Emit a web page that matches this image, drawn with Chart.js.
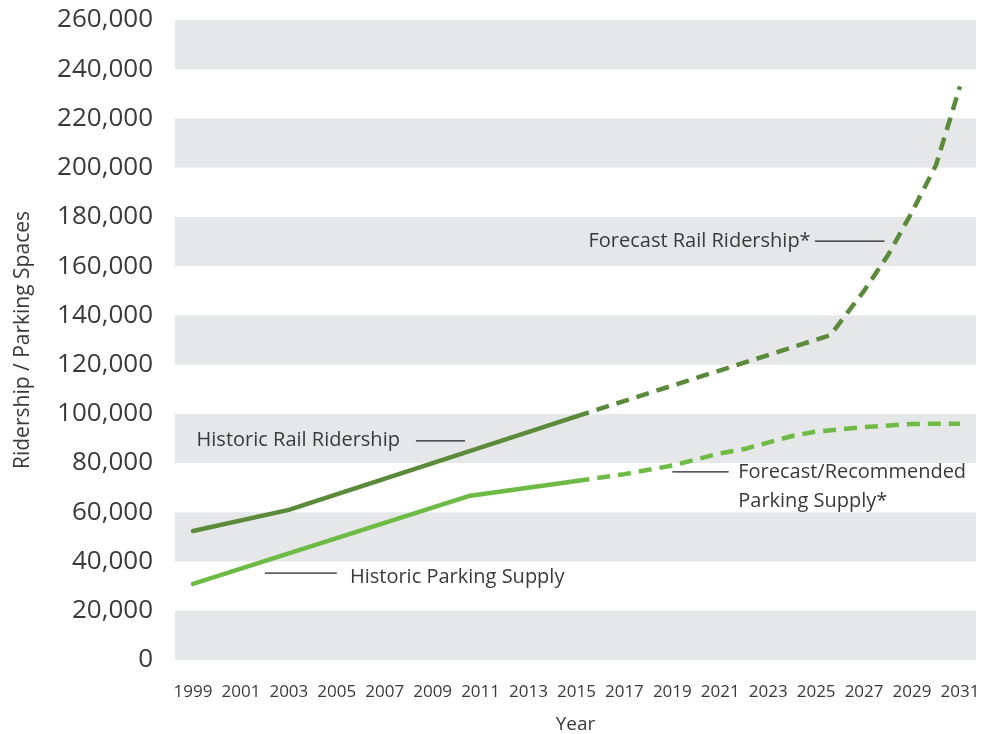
<!DOCTYPE html>
<html>
<head>
<meta charset="utf-8">
<script src="https://cdn.jsdelivr.net/npm/chart.js@4"></script>
<style>
  html, body { margin: 0; padding: 0; background: #fff; }
  #wrap { width: 984px; height: 734px; }
</style>
</head>
<body>
<div id="wrap"><canvas id="myChart" width="984" height="734"></canvas></div>
<script>
// values
const tickYears = [1999, 2001, 2003, 2005, 2007, 2009, 2011, 2013, 2015, 2017, 2019, 2021, 2023, 2025, 2027, 2029, 2031];

const railHistYears = [1999, 2003, 2015];
const railHist = [52400, 61000, 99000];

const railFcstYears = [2015, 2025.6, 2027, 2028, 2029, 2030, 2031];
const railFcst = [99000, 132000, 150000, 164500, 182000, 201000, 233000];

const parkHistYears = [1999, 2010.5, 2015];
const parkHist = [30900, 66600, 72700];

const parkFcstYears = [2015, 2017, 2019, 2021, 2022, 2024, 2025, 2027, 2029, 2031];
const parkFcst = [72700, 75500, 79000, 84000, 85700, 91000, 92800, 94600, 95900, 96000];

const darkGreen = '#5b8a3a';
const lightGreen = '#6dbb45';
const textCol = '#3a3a3a';
const font = "'Open Sans', 'DejaVu Sans', sans-serif";

// label + leader line, anchored in data units
const notes = [
  { text: ['Historic Rail Ridership'], x: 1999.15, y: 89400, line: [2008.3, 2010.35, 89000] },
  { text: ['Historic Parking Supply'], x: 2005.55, y: 33700, line: [2002.0, 2005.0, 35300] },
  { text: ['Forecast Rail Ridership*'], x: 2015.5, y: 170200, line: [2024.95, 2027.85, 170200] },
  { text: ['Forecast/Recommended', 'Parking Supply*'], x: 2021.75, y: 76400, line: [2019.0, 2021.35, 76400] }
];

function pts(xs, ys) {
  return xs.map((x, i) => ({ x: x, y: ys[i] }));
}

const bands = {
  id: 'bands',
  beforeDatasetsDraw(c) {
    const ctx = c.ctx, a = c.chartArea, ys = c.scales.y;
    ctx.save();
    ctx.fillStyle = '#e6e7e8';
    for (let v = 0; v < 260000; v += 40000) {
      const top = ys.getPixelForValue(v + 20000);
      const bot = ys.getPixelForValue(v);
      ctx.fillRect(a.left, top, a.right - a.left, bot - top);
    }
    ctx.restore();
  }
};

const labels = {
  id: 'labels',
  afterDatasetsDraw(c) {
    const ctx = c.ctx, xs = c.scales.x, ys = c.scales.y;
    ctx.save();
    ctx.font = '20px ' + font;
    ctx.fillStyle = textCol;
    ctx.textBaseline = 'middle';
    ctx.textAlign = 'left';
    notes.forEach(n => {
      const px = xs.getPixelForValue(n.x);
      const py = ys.getPixelForValue(n.y);
      n.text.forEach((t, i) => ctx.fillText(t, px, py + i * 29));
      ctx.strokeStyle = '#222';
      ctx.lineWidth = 1.3;
      ctx.beginPath();
      const ly = ys.getPixelForValue(n.line[2]);
      ctx.moveTo(xs.getPixelForValue(n.line[0]), ly);
      ctx.lineTo(xs.getPixelForValue(n.line[1]), ly);
      ctx.stroke();
    });
    ctx.restore();
  }
};

const chart = {
  type: 'line',
  data: {
    datasets: [
      { data: pts(railHistYears, railHist), borderColor: darkGreen, borderWidth: 4.5, borderCapStyle: 'round' },
      { data: pts(railFcstYears, railFcst), borderColor: darkGreen, borderWidth: 4.5, borderDash: [13, 8] },
      { data: pts(parkHistYears, parkHist), borderColor: lightGreen, borderWidth: 4.5, borderCapStyle: 'round' },
      { data: pts(parkFcstYears, parkFcst), borderColor: lightGreen, borderWidth: 4.5, borderDash: [13, 8] }
    ]
  },
  options: {
    responsive: false,
    animation: false,
    events: [],
    elements: { point: { radius: 0 }, line: { tension: 0, borderJoinStyle: 'round' } },
    layout: { padding: { top: 20, right: 8, left: 0, bottom: 0 } },
    plugins: { legend: { display: false }, tooltip: { enabled: false } },
    scales: {
      x: {
        type: 'linear',
        min: 1998.25,
        max: 2031.67,
        afterBuildTicks: s => { s.ticks = tickYears.map(v => ({ value: v })); },
        afterFit: s => { s.height = 74; s.paddingLeft = 0; s.paddingRight = 0; },
        grid: { display: false },
        border: { display: false },
        ticks: { color: textCol, font: { size: 17, family: font }, padding: 14, maxRotation: 0, autoSkip: false, callback: v => String(v) },
        title: { display: true, text: 'Year', color: textCol, font: { size: 19, family: font }, padding: { top: 6, bottom: -2 } }
      },
      y: {
        min: 0,
        max: 260000,
        afterFit: s => { s.width = 175; s.paddingTop = 0; s.paddingBottom = 0; },
        grid: { display: false },
        border: { display: false },
        ticks: { stepSize: 20000, color: textCol, font: { size: 26, family: font }, padding: 14, callback: v => v.toLocaleString('en-US') },
        title: { display: true, text: 'Ridership / Parking Spaces', color: textCol, font: { size: 21, family: font }, padding: { top: 10, bottom: 0 } }
      }
    }
  },
  plugins: [bands, labels]
};

const ctx = document.getElementById('myChart').getContext('2d');
const myChart = new Chart(ctx, chart);
</script>
</body>
</html>
